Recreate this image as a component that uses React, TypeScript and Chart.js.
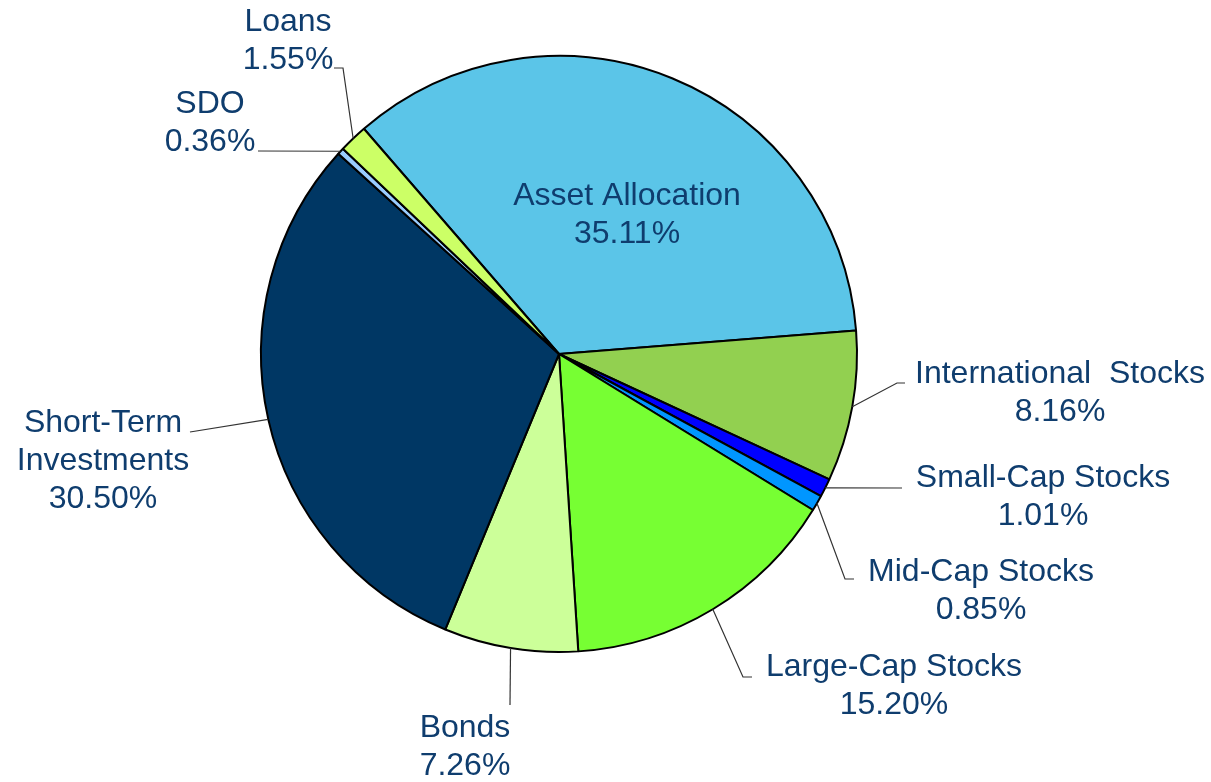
import React, { useEffect, useRef } from "react";
import { Chart, registerables } from "chart.js";

Chart.register(...registerables);

const categories = [
  "Asset Allocation",
  "International  Stocks",
  "Small-Cap Stocks",
  "Mid-Cap Stocks",
  "Large-Cap Stocks",
  "Bonds",
  "Short-Term Investments",
  "SDO",
  "Loans",
];
const categoryLines = [
  ["Asset Allocation"],
  ["International  Stocks"],
  ["Small-Cap Stocks"],
  ["Mid-Cap Stocks"],
  ["Large-Cap Stocks"],
  ["Bonds"],
  ["Short-Term", "Investments"],
  ["SDO"],
  ["Loans"],
];
const values = [35.11, 8.16, 1.01, 0.85, 15.2, 7.26, 30.5, 0.36, 1.55];
const colors = [
  "#5BC5E8",
  "#92D050",
  "#0000FF",
  "#0096FF",
  "#77FF33",
  "#CCFF99",
  "#003764",
  "#99CCFF",
  "#CCFF66",
];

// label layout: text block centre x, first baseline y, leader points (text side)
const labelLayout = [
  { x: 627, y: 205, pts: [] as number[][] },
  { x: 1060, y: 383, pts: [[905, 383], [897, 383]] },
  { x: 1043, y: 487, pts: [[902, 488]] },
  { x: 981, y: 581, pts: [[854, 579], [845, 579]] },
  { x: 894, y: 676, pts: [[752, 677], [743, 677]] },
  { x: 465, y: 737, pts: [[510, 705]] },
  { x: 103, y: 432, pts: [[190, 432]] },
  { x: 210, y: 113, pts: [[258, 151]] },
  { x: 288, y: 31, pts: [[334, 68], [343, 68]] },
];

const TEXT_COLOR = "#0F3D6E";
const FONT = "32px 'Liberation Sans', Arial, sans-serif";
const LINE_H = 38;

const labelPlugin = {
  id: "pieLabels",
  afterDatasetsDraw(chart: any) {
    const ctx = chart.ctx;
    const meta = chart.getDatasetMeta(0);
    ctx.save();
    meta.data.forEach((arc: any, i: number) => {
      const lay = labelLayout[i];
      const p = arc.getProps(["x", "y", "startAngle", "endAngle", "outerRadius"], true);
      const mid = (p.startAngle + p.endAngle) / 2;
      const ex = p.x + Math.cos(mid) * p.outerRadius;
      const ey = p.y + Math.sin(mid) * p.outerRadius;
      if (lay.pts.length) {
        ctx.beginPath();
        ctx.strokeStyle = "#333333";
        ctx.lineWidth = 1.2;
        ctx.moveTo(lay.pts[0][0], lay.pts[0][1]);
        for (let k = 1; k < lay.pts.length; k++) ctx.lineTo(lay.pts[k][0], lay.pts[k][1]);
        ctx.lineTo(ex, ey);
        ctx.stroke();
      }
      const lines = [...categoryLines[i], values[i].toFixed(2) + "%"];
      ctx.fillStyle = TEXT_COLOR;
      ctx.font = FONT;
      ctx.textAlign = "center";
      ctx.textBaseline = "alphabetic";
      lines.forEach((t, j) => {
        ctx.fillText(t, lay.x, lay.y + j * LINE_H);
      });
    });
    ctx.restore();
  },
};

export default function App() {
  const ref = useRef<HTMLCanvasElement>(null);
  useEffect(() => {
    if (!ref.current) return;
    const chart = new Chart(ref.current, {
      type: "pie",
      data: {
        labels: categories,
        datasets: [
          {
            data: values,
            backgroundColor: colors,
            borderColor: "#000000",
            borderWidth: 2,
          },
        ],
      },
      options: {
        responsive: false,
        animation: false,
        rotation: -40.9,
        layout: { padding: { left: 260, top: 55, right: 353, bottom: 129 } },
        plugins: {
          legend: { display: false },
          tooltip: { enabled: false },
          title: { display: false },
        },
      },
      plugins: [labelPlugin],
    });
    return () => chart.destroy();
  }, []);
  return (
    <div style={{ position: "absolute", left: 0, top: 0, width: 1211, height: 782, background: "#fff" }}>
      <canvas ref={ref} width={1211} height={782} style={{ width: 1211, height: 782 }} />
    </div>
  );
}
